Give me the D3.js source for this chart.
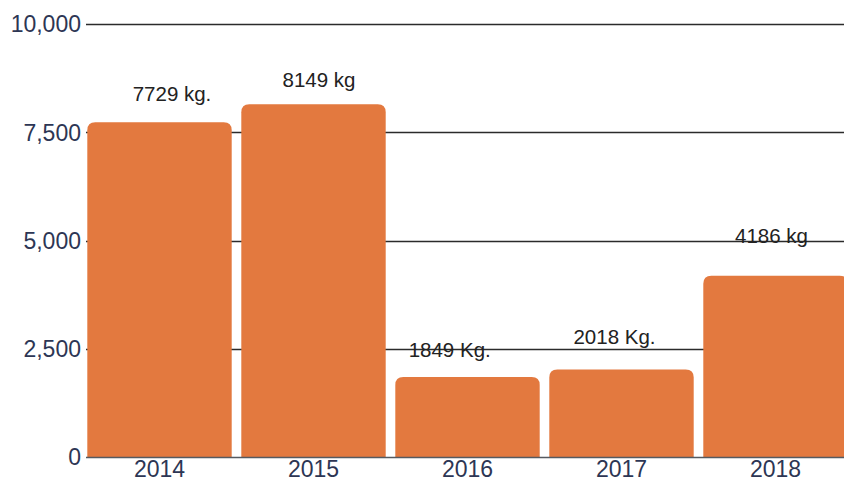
<!DOCTYPE html>
<html>
<head>
<meta charset="utf-8">
<script src="https://cdn.jsdelivr.net/npm/d3@7"></script>
<style>
  html, body { margin: 0; padding: 0; background: #ffffff; }
  svg { display: block; }
</style>
</head>
<body>
<svg id="chart" width="844" height="482"></svg>
<script>
const years = ["2014", "2015", "2016", "2017", "2018"];
const values = [7729, 8149, 1849, 2018, 4186];
const valueLabels = ["7729 kg.", "8149 kg", "1849 Kg.", "2018 Kg.", "4186 kg"];
const yTicks = [0, 2500, 5000, 7500, 10000];

// label placement nudges (layout only)
const labelDx = [12.5, 5.5, -17.8, -7, -4];
const labelDy = [21, 17, 20, 26, 33];

const W = 844, H = 482;
const svg = d3.select("#chart");

const x = d3.scaleBand()
  .domain(years)
  .range([87.3, 847.7])
  .paddingInner(0.0623)
  .paddingOuter(0);

const y = d3.scaleLinear()
  .domain([0, 10000])
  .range([457, 24]);

const fmt = d3.format(",");

// gridlines
svg.append("g")
  .selectAll("line")
  .data(yTicks.filter(d => d !== 0))
  .join("line")
  .attr("x1", 86)
  .attr("x2", W)
  .attr("y1", d => Math.round(y(d)) + 0.5)
  .attr("y2", d => Math.round(y(d)) + 0.5)
  .attr("stroke", "#2b2b2b")
  .attr("stroke-width", 1.3);

// y tick labels
svg.append("g")
  .selectAll("text")
  .data(yTicks)
  .join("text")
  .attr("x", 81)
  .attr("y", d => y(d))
  .attr("dy", "0.36em")
  .attr("text-anchor", "end")
  .attr("font-family", "Liberation Sans, Arial, sans-serif")
  .attr("font-size", 23)
  .attr("fill", "#2d3654")
  .text(d => fmt(d));

// bars with rounded top corners
const r = 8;
function barPath(x0, w, yTop, yBase) {
  const rr = Math.min(r, w / 2, yBase - yTop);
  return `M${x0},${yBase}` +
    `L${x0},${yTop + rr}` +
    `Q${x0},${yTop} ${x0 + rr},${yTop}` +
    `L${x0 + w - rr},${yTop}` +
    `Q${x0 + w},${yTop} ${x0 + w},${yTop + rr}` +
    `L${x0 + w},${yBase}Z`;
}

svg.append("g")
  .selectAll("path")
  .data(years)
  .join("path")
  .attr("d", (d, i) => barPath(x(d), x.bandwidth(), y(values[i]), y(0)))
  .attr("fill", "#e3793f");

// zero axis line
svg.append("line")
  .attr("x1", 86)
  .attr("x2", W)
  .attr("y1", y(0) + 0.5)
  .attr("y2", y(0) + 0.5)
  .attr("stroke", "#555a60")
  .attr("stroke-width", 1.6);

// x tick labels
svg.append("g")
  .selectAll("text")
  .data(years)
  .join("text")
  .attr("x", d => x(d) + x.bandwidth() / 2)
  .attr("y", 477)
  .attr("text-anchor", "middle")
  .attr("font-family", "Liberation Sans, Arial, sans-serif")
  .attr("font-size", 23)
  .attr("fill", "#2d3654")
  .text(d => d);

// value labels
svg.append("g")
  .selectAll("text")
  .data(years)
  .join("text")
  .attr("x", (d, i) => x(d) + x.bandwidth() / 2 + labelDx[i])
  .attr("y", (d, i) => y(values[i]) - labelDy[i])
  .attr("text-anchor", "middle")
  .attr("font-family", "Liberation Sans, Arial, sans-serif")
  .attr("font-size", 20.5)
  .attr("fill", "#222222")
  .text((d, i) => valueLabels[i]);
</script>
</body>
</html>
